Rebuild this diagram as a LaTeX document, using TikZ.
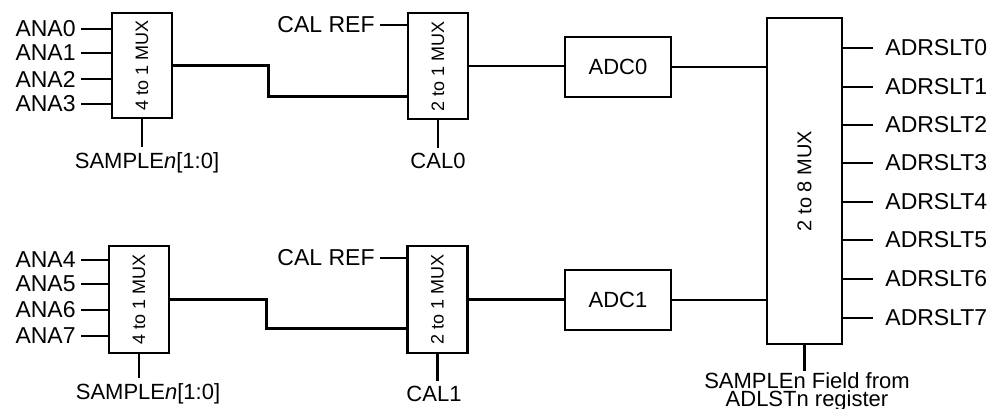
\documentclass[tikz,border=0pt]{standalone}
\usepackage{fontspec}
\setmainfont{Liberation Sans}
\usepackage{graphicx}
\usetikzlibrary{positioning,calc}

\begin{document}
\begin{tikzpicture}[x=0.5pt,y=-0.5pt,line width=1.4pt,
    muxbox/.style={draw,minimum width=30pt,inner sep=0pt,font=\fontsize{9}{11}\selectfont},
    adcbox/.style={draw,minimum width=53pt,minimum height=30pt,font=\fontsize{11}{13}\selectfont},
    lbl/.style={inner sep=2pt,font=\fontsize{11}{13}\selectfont},
    inlbl/.style={lbl,anchor=east,font=\fontsize{11.5}{13}\selectfont},
    outlbl/.style={lbl,anchor=west,inner xsep=5.5pt,font=\fontsize{11.5}{13}\selectfont}]
  \useasboundingbox (0,0) rectangle (995,408);

  % blocks
  \node[muxbox,minimum height=52.5pt] (muxa) at (142,65.5) {\rotatebox{90}{4 to 1 MUX}};
  \node[muxbox,minimum height=53.5pt] (muxb) at (139,299.5) {\rotatebox{90}{4 to 1 MUX}};
  \node[muxbox,minimum height=53pt] (cala) at (438,66) {\rotatebox{90}{2 to 1 MUX}};
  \node[muxbox,minimum height=53.5pt] (calb) at (437.5,299.5) {\rotatebox{90}{2 to 1 MUX}};
  \node[adcbox] (adca) at (618,67) {ADC0};
  \node[adcbox] (adcb) at (618,300) {ADC1};
  \node[draw,minimum width=37.5pt,minimum height=163pt,inner sep=0pt,font=\fontsize{10}{12}\selectfont] (omux) at (804.5,181) {\rotatebox{90}{2 to 8 MUX}};

  % analog inputs
  \node[inlbl] (ana0) at (81,29) {ANA0};
  \node[inlbl] (ana1) at (81,53) {ANA1};
  \node[inlbl] (ana2) at (81,79) {ANA2};
  \node[inlbl] (ana3) at (81,104) {ANA3};
  \node[inlbl] (ana4) at (81,260) {ANA4};
  \node[inlbl] (ana5) at (81,284) {ANA5};
  \node[inlbl] (ana6) at (81,310) {ANA6};
  \node[inlbl] (ana7) at (81,336) {ANA7};
  \draw (ana0.east) -- (ana0.east -| muxa.west);
  \draw (ana1.east) -- (ana1.east -| muxa.west);
  \draw (ana2.east) -- (ana2.east -| muxa.west);
  \draw (ana3.east) -- (ana3.east -| muxa.west);
  \draw (ana4.east) -- (ana4.east -| muxb.west);
  \draw (ana5.east) -- (ana5.east -| muxb.west);
  \draw (ana6.east) -- (ana6.east -| muxb.west);
  \draw (ana7.east) -- (ana7.east -| muxb.west);

  % calibration reference
  \node[inlbl] (refa) at (380,25) {CAL REF};
  \node[inlbl] (refb) at (380,258) {CAL REF};
  \draw (refa.east) -- (refa.east -| cala.west);
  \draw (refb.east) -- (refb.east -| calb.west);

  % select lines
  \node[lbl] (sela) at (147,163) {SAMPLE\textit{n}[1:0]};
  \node[lbl] (selb) at (148,394) {SAMPLE\textit{n}[1:0]};
  \node[lbl] (cal0) at (438,161) {CAL0};
  \node[lbl] (cal1) at (434,394) {CAL1};
  \node[lbl,anchor=north,inner sep=0pt,align=center,font=\fontsize{11}{9}\selectfont] (fld) at (807,371) {SAMPLEn Field from\\ADLSTn register};
  \draw (muxa.south) -- (muxa.south |- sela.north);
  \draw (muxb.south) -- (muxb.south |- selb.north);
  \draw (cala.south) -- (cala.south |- cal0.north);
  \draw (calb.south) -- (calb.south |- cal1.north);
  \draw (omux.south) -- (omux.south |- fld.north);

  % data path
  \draw (muxa.east) -- ++(95,0) |- ($(cala.south west)+(0,-24)$);
  \draw (muxb.east) -- ++(96,0) |- ($(calb.south west)+(0,-26)$);
  \draw (cala.east) -- (cala.east -| adca.west);
  \draw (calb.east) -- (calb.east -| adcb.west);
  \draw (adca.east) -- (adca.east -| omux.west);
  \draw (adcb.east) -- (adcb.east -| omux.west);

  % results
  \node[outlbl] (r0) at (873,48) {ADRSLT0};
  \node[outlbl] (r1) at (873,87) {ADRSLT1};
  \node[outlbl] (r2) at (873,125) {ADRSLT2};
  \node[outlbl] (r3) at (873,163) {ADRSLT3};
  \node[outlbl] (r4) at (873,202) {ADRSLT4};
  \node[outlbl] (r5) at (873,240) {ADRSLT5};
  \node[outlbl] (r6) at (873,279) {ADRSLT6};
  \node[outlbl] (r7) at (873,318) {ADRSLT7};
  \draw (r0.west -| omux.east) -- (r0.west);
  \draw (r1.west -| omux.east) -- (r1.west);
  \draw (r2.west -| omux.east) -- (r2.west);
  \draw (r3.west -| omux.east) -- (r3.west);
  \draw (r4.west -| omux.east) -- (r4.west);
  \draw (r5.west -| omux.east) -- (r5.west);
  \draw (r6.west -| omux.east) -- (r6.west);
  \draw (r7.west -| omux.east) -- (r7.west);
\end{tikzpicture}
\end{document}
